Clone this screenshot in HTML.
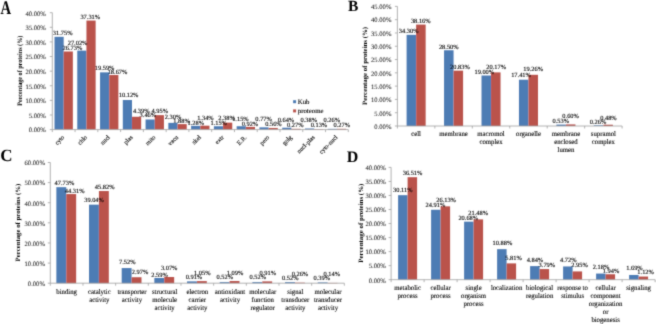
<!DOCTYPE html>
<html><head><meta charset="utf-8"><style>
html,body{margin:0;padding:0;background:#fff;}
svg{display:block;}
text{font-family:"Liberation Serif",serif;fill:#000;text-rendering:geometricPrecision;stroke:#000;stroke-width:0.08px;}
.tk{font-size:6.6px;text-anchor:end;fill:#222;stroke:#222;stroke-width:0.06px;}
.dl{font-size:6.4px;text-anchor:middle;}
.dls{font-size:6.4px;stroke-width:0.12px;}
.ct{font-size:7.1px;text-anchor:middle;stroke-width:0.1px;}
.cr{font-size:6.2px;text-anchor:end;stroke-width:0.1px;}
.yt{font-weight:bold;text-anchor:middle;stroke-width:0;}
.pl{font-weight:bold;stroke-width:0;}
.lg{font-size:6.8px;stroke-width:0.12px;}
</style></head><body>
<svg width="656" height="324" viewBox="0 0 656 324">
<defs><filter id="bl" x="0" y="0" width="100%" height="100%" filterUnits="userSpaceOnUse"><feConvolveMatrix order="3" kernelMatrix="0.025 0.1 0.025 0.1 0.5 0.1 0.025 0.1 0.025" edgeMode="duplicate" preserveAlpha="false"/></filter></defs>
<rect width="656" height="324" fill="#fff"/>
<g filter="url(#bl)">
<rect x="54.5" y="36.81" width="9.18" height="92.79" fill="#4E7CB4"/>
<rect x="63.68" y="51.48" width="9.18" height="78.12" fill="#BA534C"/>
<rect x="77.27" y="50.63" width="9.18" height="78.97" fill="#4E7CB4"/>
<rect x="86.45" y="20.56" width="9.18" height="109.04" fill="#BA534C"/>
<rect x="100.04" y="72.35" width="9.18" height="57.25" fill="#4E7CB4"/>
<rect x="109.22" y="75.04" width="9.18" height="54.56" fill="#BA534C"/>
<rect x="122.81" y="100.02" width="9.18" height="29.58" fill="#4E7CB4"/>
<rect x="131.99" y="116.77" width="9.18" height="12.83" fill="#BA534C"/>
<rect x="145.58" y="119.49" width="9.18" height="10.11" fill="#4E7CB4"/>
<rect x="154.76" y="115.13" width="9.18" height="14.47" fill="#BA534C"/>
<rect x="168.35" y="122.88" width="9.18" height="6.72" fill="#4E7CB4"/>
<rect x="177.53" y="124.11" width="9.18" height="5.49" fill="#BA534C"/>
<rect x="191.12" y="125.86" width="9.18" height="3.74" fill="#4E7CB4"/>
<rect x="200.3" y="125.68" width="9.18" height="3.92" fill="#BA534C"/>
<rect x="213.89" y="126.24" width="9.18" height="3.36" fill="#4E7CB4"/>
<rect x="223.07" y="122.64" width="9.18" height="6.96" fill="#BA534C"/>
<rect x="236.66" y="126.24" width="9.18" height="3.36" fill="#4E7CB4"/>
<rect x="245.84" y="126.91" width="9.18" height="2.69" fill="#BA534C"/>
<rect x="259.43" y="127.35" width="9.18" height="2.25" fill="#4E7CB4"/>
<rect x="268.61" y="127.96" width="9.18" height="1.64" fill="#BA534C"/>
<rect x="282.2" y="127.73" width="9.18" height="1.87" fill="#4E7CB4"/>
<rect x="291.38" y="128.81" width="9.18" height="0.79" fill="#BA534C"/>
<rect x="304.97" y="128.49" width="9.18" height="1.11" fill="#4E7CB4"/>
<rect x="314.15" y="129.22" width="9.18" height="0.38" fill="#BA534C"/>
<rect x="327.74" y="128.84" width="9.18" height="0.76" fill="#4E7CB4"/>
<rect x="336.92" y="128.81" width="9.18" height="0.79" fill="#BA534C"/>
<path d="M52.3 12.7V129.6H348.31" stroke="#A0A0A0" stroke-width="0.8" fill="none"/>
<text class="tk" x="45.8" y="132.4">0.00%</text>
<text class="tk" x="45.8" y="117.79">5.00%</text>
<text class="tk" x="45.8" y="103.17">10.00%</text>
<text class="tk" x="45.8" y="88.56">15.00%</text>
<text class="tk" x="45.8" y="73.95">20.00%</text>
<text class="tk" x="45.8" y="59.34">25.00%</text>
<text class="tk" x="45.8" y="44.72">30.00%</text>
<text class="tk" x="45.8" y="30.11">35.00%</text>
<text class="tk" x="45.8" y="15.5">40.00%</text>
<path d="M49.8 129.6H52.3M49.8 114.99H52.3M49.8 100.38H52.3M49.8 85.76H52.3M49.8 71.15H52.3M49.8 56.54H52.3M49.8 41.92H52.3M49.8 27.31H52.3M49.8 12.7H52.3M52.3 129.6V132.1M75.07 129.6V132.1M97.84 129.6V132.1M120.61 129.6V132.1M143.38 129.6V132.1M166.15 129.6V132.1M188.92 129.6V132.1M211.69 129.6V132.1M234.46 129.6V132.1M257.23 129.6V132.1M280 129.6V132.1M302.77 129.6V132.1M325.54 129.6V132.1M348.31 129.6V132.1" stroke="#A0A0A0" stroke-width="0.8" fill="none"/>
<text class="dls" transform="translate(52.79 34.8) scale(1.0 1)">31.75%</text>
<text class="dls" transform="translate(62.52 50.1) scale(1.0 1)">26.73%</text>
<text class="dls" transform="translate(67.72 45) scale(1.0 1)">27.02%</text>
<text class="dls" transform="translate(80.39 19) scale(1.0 1)">37.31%</text>
<text class="dls" transform="translate(94.74 70) scale(1.0 1)">19.59%</text>
<text class="dls" transform="translate(107.64 73.6) scale(1.0 1)">18.67%</text>
<text class="dls" transform="translate(118.74 96.7) scale(1.0 1)">10.12%</text>
<text class="dls" transform="translate(132.97 112.8) scale(1.0 1)">4.39%</text>
<text class="dls" transform="translate(139.59 117.3) scale(1.0 1)">3.46%</text>
<text class="dls" transform="translate(151.47 112.8) scale(1.0 1)">4.95%</text>
<text class="dls" transform="translate(164.82 119.2) scale(1.0 1)">2.30%</text>
<text class="dls" transform="translate(173.24 122.6) scale(1.0 1)">1.88%</text>
<text class="dls" transform="translate(187.54 125) scale(1.0 1)">1.28%</text>
<text class="dls" transform="translate(197.14 120) scale(1.0 1)">1.34%</text>
<text class="dls" transform="translate(210.44 125) scale(1.0 1)">1.15%</text>
<text class="dls" transform="translate(218.32 120) scale(1.0 1)">2.38%</text>
<text class="dls" transform="translate(232.14 121.2) scale(1.0 1)">1.15%</text>
<text class="dls" transform="translate(241.66 125.5) scale(1.0 1)">0.92%</text>
<text class="dls" transform="translate(255.36 121.2) scale(1.0 1)">0.77%</text>
<text class="dls" transform="translate(265.16 125.8) scale(1.0 1)">0.56%</text>
<text class="dls" transform="translate(277.66 122.4) scale(1.0 1)">0.64%</text>
<text class="dls" transform="translate(286.96 126.5) scale(1.0 1)">0.27%</text>
<text class="dls" transform="translate(300.56 122.4) scale(1.0 1)">0.38%</text>
<text class="dls" transform="translate(310.66 127.4) scale(1.0 1)">0.13%</text>
<text class="dls" transform="translate(323.56 122.4) scale(1.0 1)">0.26%</text>
<text class="dls" transform="translate(333.56 126.5) scale(1.0 1)">0.27%</text>
<text class="cr" transform="translate(64.78 137.7) rotate(-45)">cyto</text>
<text class="cr" transform="translate(87.55 137.7) rotate(-45)">chlo</text>
<text class="cr" transform="translate(110.32 137.7) rotate(-45)">nucl</text>
<text class="cr" transform="translate(133.09 137.7) rotate(-45)">plas</text>
<text class="cr" transform="translate(155.86 137.7) rotate(-45)">mito</text>
<text class="cr" transform="translate(178.63 137.7) rotate(-45)">vacu</text>
<text class="cr" transform="translate(201.41 137.7) rotate(-45)">skel</text>
<text class="cr" transform="translate(224.17 137.7) rotate(-45)">extr</text>
<text class="cr" transform="translate(246.94 137.7) rotate(-45)">E.R.</text>
<text class="cr" transform="translate(269.72 137.7) rotate(-45)">pero</text>
<text class="cr" transform="translate(292.49 137.7) rotate(-45)">golg</text>
<text class="cr" transform="translate(315.26 137.7) rotate(-45)">nucl-plas</text>
<text class="cr" transform="translate(338.03 137.7) rotate(-45)">cyto-nucl</text>
<rect x="406.6" y="34.84" width="9.52" height="91.16" fill="#4E7CB4"/>
<rect x="416.12" y="24.58" width="9.52" height="101.42" fill="#BA534C"/>
<rect x="444.05" y="50.25" width="9.52" height="75.75" fill="#4E7CB4"/>
<rect x="453.57" y="70.64" width="9.52" height="55.36" fill="#BA534C"/>
<rect x="481.5" y="75.5" width="9.52" height="50.5" fill="#4E7CB4"/>
<rect x="491.02" y="72.39" width="9.52" height="53.61" fill="#BA534C"/>
<rect x="518.95" y="79.73" width="9.52" height="46.27" fill="#4E7CB4"/>
<rect x="528.47" y="74.81" width="9.52" height="51.19" fill="#BA534C"/>
<rect x="556.4" y="124.59" width="9.52" height="1.41" fill="#4E7CB4"/>
<rect x="565.92" y="124.41" width="9.52" height="1.59" fill="#BA534C"/>
<rect x="593.85" y="125.31" width="9.52" height="0.69" fill="#4E7CB4"/>
<rect x="603.37" y="124.72" width="9.52" height="1.28" fill="#BA534C"/>
<path d="M397.4 6.4V126H622.1" stroke="#A0A0A0" stroke-width="0.8" fill="none"/>
<text class="tk" x="391.4" y="128.8">0.00%</text>
<text class="tk" x="391.4" y="115.51">5.00%</text>
<text class="tk" x="391.4" y="102.22">10.00%</text>
<text class="tk" x="391.4" y="88.93">15.00%</text>
<text class="tk" x="391.4" y="75.64">20.00%</text>
<text class="tk" x="391.4" y="62.36">25.00%</text>
<text class="tk" x="391.4" y="49.07">30.00%</text>
<text class="tk" x="391.4" y="35.78">35.00%</text>
<text class="tk" x="391.4" y="22.49">40.00%</text>
<text class="tk" x="391.4" y="9.2">45.00%</text>
<path d="M394.9 126H397.4M394.9 112.71H397.4M394.9 99.42H397.4M394.9 86.13H397.4M394.9 72.84H397.4M394.9 59.56H397.4M394.9 46.27H397.4M394.9 32.98H397.4M394.9 19.69H397.4M394.9 6.4H397.4M397.4 126V128.5M434.85 126V128.5M472.3 126V128.5M509.75 126V128.5M547.2 126V128.5M584.65 126V128.5M622.1 126V128.5" stroke="#A0A0A0" stroke-width="0.8" fill="none"/>
<text class="dls" transform="translate(398.79 32.5) scale(1.0 1)">34.30%</text>
<text class="dls" transform="translate(410.89 22.9) scale(1.0 1)">38.16%</text>
<text class="dls" transform="translate(438.92 49.4) scale(1.0 1)">28.50%</text>
<text class="dls" transform="translate(450.02 69) scale(1.0 1)">20.83%</text>
<text class="dls" transform="translate(474.44 74.4) scale(1.0 1)">19.00%</text>
<text class="dls" transform="translate(486.32 68.5) scale(1.0 1)">20.17%</text>
<text class="dls" transform="translate(511.14 77.1) scale(1.0 1)">17.41%</text>
<text class="dls" transform="translate(523.34 70.9) scale(1.0 1)">19.26%</text>
<text class="dls" transform="translate(552.56 123) scale(1.0 1)">0.53%</text>
<text class="dls" transform="translate(562.36 117.8) scale(1.0 1)">0.60%</text>
<text class="dls" transform="translate(589.76 124.3) scale(1.0 1)">0.26%</text>
<text class="dls" transform="translate(600.16 120.2) scale(1.0 1)">0.48%</text>
<text class="ct" transform="translate(416.12 136.4) scale(0.95 1)">cell</text>
<text class="ct" transform="translate(453.57 136.4) scale(0.95 1)">membrane</text>
<text class="ct" transform="translate(491.02 136.4) scale(0.95 1)">macromol</text>
<text class="ct" transform="translate(491.02 144.35) scale(0.95 1)">complex</text>
<text class="ct" transform="translate(528.48 136.4) scale(0.95 1)">organelle</text>
<text class="ct" transform="translate(565.92 136.4) scale(0.95 1)">membrane</text>
<text class="ct" transform="translate(565.92 144.35) scale(0.95 1)">enclosed</text>
<text class="ct" transform="translate(565.92 152.3) scale(0.95 1)">lumen</text>
<text class="ct" transform="translate(603.38 136.4) scale(0.95 1)">supramol</text>
<text class="ct" transform="translate(603.38 144.35) scale(0.95 1)">complex</text>
<rect x="56.35" y="187.18" width="9.9" height="96.02" fill="#4E7CB4"/>
<rect x="66.25" y="194.06" width="9.9" height="89.14" fill="#BA534C"/>
<rect x="89.02" y="204.66" width="9.9" height="78.54" fill="#4E7CB4"/>
<rect x="98.92" y="191.03" width="9.9" height="92.17" fill="#BA534C"/>
<rect x="121.69" y="268.07" width="9.9" height="15.13" fill="#4E7CB4"/>
<rect x="131.59" y="277.23" width="9.9" height="5.97" fill="#BA534C"/>
<rect x="154.36" y="277.99" width="9.9" height="5.21" fill="#4E7CB4"/>
<rect x="164.26" y="277.02" width="9.9" height="6.18" fill="#BA534C"/>
<rect x="187.03" y="281.37" width="9.9" height="1.83" fill="#4E7CB4"/>
<rect x="196.93" y="281.09" width="9.9" height="2.11" fill="#BA534C"/>
<rect x="219.7" y="282.15" width="9.9" height="1.05" fill="#4E7CB4"/>
<rect x="229.6" y="281.01" width="9.9" height="2.19" fill="#BA534C"/>
<rect x="252.37" y="282.15" width="9.9" height="1.05" fill="#4E7CB4"/>
<rect x="262.27" y="281.37" width="9.9" height="1.83" fill="#BA534C"/>
<rect x="285.04" y="282.15" width="9.9" height="1.05" fill="#4E7CB4"/>
<rect x="294.94" y="282.68" width="9.9" height="0.52" fill="#BA534C"/>
<rect x="317.71" y="282.42" width="9.9" height="0.78" fill="#4E7CB4"/>
<rect x="327.61" y="282.92" width="9.9" height="0.28" fill="#BA534C"/>
<path d="M50.3 162.5V283.2H344.33" stroke="#A0A0A0" stroke-width="0.8" fill="none"/>
<text class="tk" x="44.9" y="286">0.00%</text>
<text class="tk" x="44.9" y="265.88">10.00%</text>
<text class="tk" x="44.9" y="245.77">20.00%</text>
<text class="tk" x="44.9" y="225.65">30.00%</text>
<text class="tk" x="44.9" y="205.53">40.00%</text>
<text class="tk" x="44.9" y="185.42">50.00%</text>
<text class="tk" x="44.9" y="165.3">60.00%</text>
<path d="M47.8 283.2H50.3M47.8 263.08H50.3M47.8 242.97H50.3M47.8 222.85H50.3M47.8 202.73H50.3M47.8 182.62H50.3M47.8 162.5H50.3M50.3 283.2V285.7M82.97 283.2V285.7M115.64 283.2V285.7M148.31 283.2V285.7M180.98 283.2V285.7M213.65 283.2V285.7M246.32 283.2V285.7M278.99 283.2V285.7M311.66 283.2V285.7M344.33 283.2V285.7" stroke="#A0A0A0" stroke-width="0.8" fill="none"/>
<text class="dls" transform="translate(54.57 184.8) scale(1.0 1)">47.73%</text>
<text class="dls" transform="translate(64.77 193) scale(1.0 1)">44.31%</text>
<text class="dls" transform="translate(84.19 201.8) scale(1.0 1)">39.04%</text>
<text class="dls" transform="translate(94.87 189.4) scale(1.0 1)">45.82%</text>
<text class="dls" transform="translate(119.08 264.1) scale(1.0 1)">7.52%</text>
<text class="dls" transform="translate(131.72 273.5) scale(1.0 1)">2.97%</text>
<text class="dls" transform="translate(151.22 276.8) scale(1.0 1)">2.59%</text>
<text class="dls" transform="translate(160.89 270.3) scale(1.0 1)">3.07%</text>
<text class="dls" transform="translate(185.66 279.4) scale(1.0 1)">0.91%</text>
<text class="dls" transform="translate(194.04 274.8) scale(1.0 1)">1.05%</text>
<text class="dls" transform="translate(216.56 279.4) scale(1.0 1)">0.52%</text>
<text class="dls" transform="translate(226.74 275.1) scale(1.0 1)">1.09%</text>
<text class="dls" transform="translate(249.46 279.4) scale(1.0 1)">0.52%</text>
<text class="dls" transform="translate(259.46 275.2) scale(1.0 1)">0.91%</text>
<text class="dls" transform="translate(282.06 279.6) scale(1.0 1)">0.52%</text>
<text class="dls" transform="translate(291.66 275.9) scale(1.0 1)">0.26%</text>
<text class="dls" transform="translate(313.56 280.3) scale(1.0 1)">0.39%</text>
<text class="dls" transform="translate(323.56 276.2) scale(1.0 1)">0.14%</text>
<text class="ct" transform="translate(66.63 293.6) scale(0.95 1)">binding</text>
<text class="ct" transform="translate(99.31 293.6) scale(0.95 1)">catalytic</text>
<text class="ct" transform="translate(99.31 301.55) scale(0.95 1)">activity</text>
<text class="ct" transform="translate(131.98 293.6) scale(0.95 1)">transporter</text>
<text class="ct" transform="translate(131.98 301.55) scale(0.95 1)">activity</text>
<text class="ct" transform="translate(164.64 293.6) scale(0.95 1)">structural</text>
<text class="ct" transform="translate(164.64 301.55) scale(0.95 1)">molecule</text>
<text class="ct" transform="translate(164.64 309.5) scale(0.95 1)">activity</text>
<text class="ct" transform="translate(197.31 293.6) scale(0.95 1)">electron</text>
<text class="ct" transform="translate(197.31 301.55) scale(0.95 1)">carrier</text>
<text class="ct" transform="translate(197.31 309.5) scale(0.95 1)">activity</text>
<text class="ct" transform="translate(229.99 293.6) scale(0.95 1)">antioxidant</text>
<text class="ct" transform="translate(229.99 301.55) scale(0.95 1)">activity</text>
<text class="ct" transform="translate(262.66 293.6) scale(0.95 1)">molecular</text>
<text class="ct" transform="translate(262.66 301.55) scale(0.95 1)">function</text>
<text class="ct" transform="translate(262.66 309.5) scale(0.95 1)">regulator</text>
<text class="ct" transform="translate(295.32 293.6) scale(0.95 1)">signal</text>
<text class="ct" transform="translate(295.32 301.55) scale(0.95 1)">transducer</text>
<text class="ct" transform="translate(295.32 309.5) scale(0.95 1)">activity</text>
<text class="ct" transform="translate(328 293.6) scale(0.95 1)">molecular</text>
<text class="ct" transform="translate(328 301.55) scale(0.95 1)">transducer</text>
<text class="ct" transform="translate(328 309.5) scale(0.95 1)">activity</text>
<rect x="398.1" y="195.17" width="9.5" height="84.53" fill="#4E7CB4"/>
<rect x="407.6" y="177.2" width="9.5" height="102.5" fill="#BA534C"/>
<rect x="431.1" y="209.77" width="9.5" height="69.93" fill="#4E7CB4"/>
<rect x="440.6" y="206.34" width="9.5" height="73.36" fill="#BA534C"/>
<rect x="464.1" y="221.64" width="9.5" height="58.06" fill="#4E7CB4"/>
<rect x="473.6" y="219.39" width="9.5" height="60.31" fill="#BA534C"/>
<rect x="497.1" y="249.15" width="9.5" height="30.55" fill="#4E7CB4"/>
<rect x="506.6" y="263.39" width="9.5" height="16.31" fill="#BA534C"/>
<rect x="530.1" y="266.11" width="9.5" height="13.59" fill="#4E7CB4"/>
<rect x="539.6" y="269.06" width="9.5" height="10.64" fill="#BA534C"/>
<rect x="563.1" y="266.45" width="9.5" height="13.25" fill="#4E7CB4"/>
<rect x="572.6" y="271.42" width="9.5" height="8.28" fill="#BA534C"/>
<rect x="596.1" y="273.58" width="9.5" height="6.12" fill="#4E7CB4"/>
<rect x="605.6" y="274.25" width="9.5" height="5.45" fill="#BA534C"/>
<rect x="629.1" y="274.96" width="9.5" height="4.74" fill="#4E7CB4"/>
<rect x="638.6" y="276.56" width="9.5" height="3.14" fill="#BA534C"/>
<path d="M391.1 167.4V279.7H655.1" stroke="#A0A0A0" stroke-width="0.8" fill="none"/>
<text class="tk" x="385.8" y="282.5">0.00%</text>
<text class="tk" x="385.8" y="268.46">5.00%</text>
<text class="tk" x="385.8" y="254.43">10.00%</text>
<text class="tk" x="385.8" y="240.39">15.00%</text>
<text class="tk" x="385.8" y="226.35">20.00%</text>
<text class="tk" x="385.8" y="212.31">25.00%</text>
<text class="tk" x="385.8" y="198.28">30.00%</text>
<text class="tk" x="385.8" y="184.24">35.00%</text>
<text class="tk" x="385.8" y="170.2">40.00%</text>
<path d="M388.6 279.7H391.1M388.6 265.66H391.1M388.6 251.62H391.1M388.6 237.59H391.1M388.6 223.55H391.1M388.6 209.51H391.1M388.6 195.47H391.1M388.6 181.44H391.1M388.6 167.4H391.1M391.1 279.7V282.2M424.1 279.7V282.2M457.1 279.7V282.2M490.1 279.7V282.2M523.1 279.7V282.2M556.1 279.7V282.2M589.1 279.7V282.2M622.1 279.7V282.2M655.1 279.7V282.2" stroke="#A0A0A0" stroke-width="0.8" fill="none"/>
<text class="dls" transform="translate(392.99 191.6) scale(1.0 1)">30.11%</text>
<text class="dls" transform="translate(402.69 174.9) scale(1.0 1)">36.51%</text>
<text class="dls" transform="translate(425.52 206.6) scale(1.0 1)">24.91%</text>
<text class="dls" transform="translate(436.22 201.9) scale(1.0 1)">26.13%</text>
<text class="dls" transform="translate(458.42 220.1) scale(1.0 1)">20.68%</text>
<text class="dls" transform="translate(468.32 214.8) scale(1.0 1)">21.48%</text>
<text class="dls" transform="translate(492.54 244.7) scale(1.0 1)">10.88%</text>
<text class="dls" transform="translate(505.23 260.2) scale(1.0 1)">5.81%</text>
<text class="dls" transform="translate(526.67 261.6) scale(1.0 1)">4.84%</text>
<text class="dls" transform="translate(538.59 267.1) scale(1.0 1)">3.79%</text>
<text class="dls" transform="translate(560.07 261.9) scale(1.0 1)">4.72%</text>
<text class="dls" transform="translate(571.32 267) scale(1.0 1)">2.95%</text>
<text class="dls" transform="translate(592.82 269.4) scale(1.0 1)">2.18%</text>
<text class="dls" transform="translate(602.74 273.1) scale(1.0 1)">1.94%</text>
<text class="dls" transform="translate(626.14 270.3) scale(1.0 1)">1.69%</text>
<text class="dls" transform="translate(637.34 273.5) scale(1.0 1)">1.12%</text>
<text class="ct" transform="translate(407.6 290.1) scale(0.95 1)">metabolic</text>
<text class="ct" transform="translate(407.6 298.05) scale(0.95 1)">process</text>
<text class="ct" transform="translate(440.6 290.1) scale(0.95 1)">cellular</text>
<text class="ct" transform="translate(440.6 298.05) scale(0.95 1)">process</text>
<text class="ct" transform="translate(473.6 290.1) scale(0.95 1)">single</text>
<text class="ct" transform="translate(473.6 298.05) scale(0.95 1)">organism</text>
<text class="ct" transform="translate(473.6 306) scale(0.95 1)">process</text>
<text class="ct" transform="translate(506.6 290.1) scale(0.95 1)">localization</text>
<text class="ct" transform="translate(539.6 290.1) scale(0.95 1)">biological</text>
<text class="ct" transform="translate(539.6 298.05) scale(0.95 1)">regulation</text>
<text class="ct" transform="translate(572.6 290.1) scale(0.95 1)">response to</text>
<text class="ct" transform="translate(572.6 298.05) scale(0.95 1)">stimulus</text>
<text class="ct" transform="translate(605.6 290.1) scale(0.95 1)">cellular</text>
<text class="ct" transform="translate(605.6 298.05) scale(0.95 1)">component</text>
<text class="ct" transform="translate(605.6 306) scale(0.95 1)">organization</text>
<text class="ct" transform="translate(605.6 313.95) scale(0.95 1)">or</text>
<text class="ct" transform="translate(605.6 321.9) scale(0.95 1)">biogenesis</text>
<text class="ct" transform="translate(638.6 290.1) scale(0.95 1)">signaling</text>
<text class="yt" style="font-size:6.8px" transform="translate(22.4 70.75) rotate(-90)" textLength="70.1" lengthAdjust="spacingAndGlyphs">Percentage of proteins (%)</text>
<text class="yt" style="font-size:6.6px" transform="translate(367.2 65.95) rotate(-90)" textLength="78.1" lengthAdjust="spacingAndGlyphs">Percentage of proteins (%)</text>
<text class="yt" style="font-size:6.6px" transform="translate(20.3 222.6) rotate(-90)" textLength="77.6" lengthAdjust="spacingAndGlyphs">Percentage of proteins (%)</text>
<text class="yt" style="font-size:6.6px" transform="translate(363 223.15) rotate(-90)" textLength="79.1" lengthAdjust="spacingAndGlyphs">Percentage of proteins (%)</text>
<text class="pl" transform="translate(0.6 13.5) scale(0.75 1)" style="font-size:19.5px">A</text>
<text class="pl" transform="translate(347.9 10.6) scale(1.0 1)" style="font-size:15.5px">B</text>
<text class="pl" transform="translate(0.3 161.2) scale(1.0 1)" style="font-size:17px">C</text>
<text class="pl" transform="translate(346.8 161.9) scale(1.0 1)" style="font-size:16px">D</text>
<rect x="293.1" y="100.2" width="3" height="3" fill="#4E7CB4"/><text class="lg" x="297.8" y="103.5">Kub</text>
<rect x="293.1" y="109.4" width="3" height="3" fill="#BA534C"/><text class="lg" x="297.8" y="113.3">proteome</text>
</g>
</svg>
</body></html>
